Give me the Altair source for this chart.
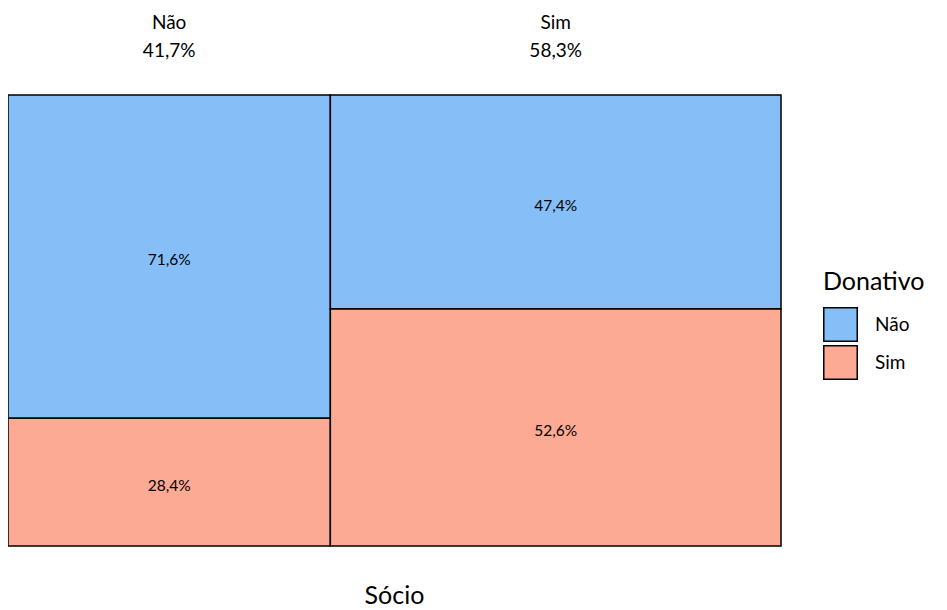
import altair as alt
import pandas as pd

socio = ["Não", "Sim"]
socio_pct = [41.7, 58.3]
donativo = ["Não", "Sim"]
# conditional percentages of Donativo within each Sócio column
pct_nao = [71.6, 47.4]
pct_sim = [28.4, 52.6]
colors = ["#86BFF7", "#FDAA95"]

FONT = "Lato"

rows = []
cols = []
x0 = 0.0
for i, s in enumerate(socio):
    x1 = x0 + socio_pct[i]
    cols.append({"socio": s, "mid": (x0 + x1) / 2,
                 "label": f"{s}\n{socio_pct[i]:.1f}%".replace(".", ",")})
    # Sim at bottom, Não on top
    rows.append({"socio": s, "donativo": "Sim", "x": x0, "x2": x1,
                 "y": 0, "y2": pct_sim[i], "ym": pct_sim[i] / 2,
                 "txt": f"{pct_sim[i]:.1f}%".replace(".", ",")})
    rows.append({"socio": s, "donativo": "Não", "x": x0, "x2": x1,
                 "y": pct_sim[i], "y2": 100, "ym": pct_sim[i] + pct_nao[i] / 2,
                 "txt": f"{pct_nao[i]:.1f}%".replace(".", ",")})
    x0 = x1

df = pd.DataFrame(rows)
dc = pd.DataFrame(cols)

xs = alt.Scale(domain=[0, 100], nice=False, zero=False)
ys = alt.Scale(domain=[0, 100], nice=False, zero=False)

rects = alt.Chart(df).mark_rect(stroke="black", strokeWidth=1.5).encode(
    x=alt.X("x:Q", scale=xs, axis=None),
    x2="x2",
    y=alt.Y("y:Q", scale=ys, axis=None),
    y2="y2",
    color=alt.Color("donativo:N", scale=alt.Scale(domain=donativo, range=colors),
                    legend=alt.Legend(title="Donativo", orient="none", legendX=815, legendY=175,
                                      symbolType="square", symbolSize=1120,
                                      symbolStrokeColor="black", symbolStrokeWidth=1.5,
                                      symbolOpacity=1, labelFontSize=19, titleFontSize=25,
                                      titleFontWeight="normal", labelFont=FONT, titleFont=FONT,
                                      labelColor="black", titleColor="black",
                                      rowPadding=-6, titlePadding=12, labelOffset=17)),
)

cell_text = alt.Chart(df).mark_text(font=FONT, fontSize=15.5, color="black", baseline="middle", dy=4).encode(
    x=alt.X("xm:Q", scale=xs, axis=None),
    y=alt.Y("ym:Q", scale=ys, axis=None),
    text="txt:N",
).transform_calculate(xm="(datum.x + datum.x2) / 2")

top_text = alt.Chart(dc).mark_text(font=FONT, fontSize=19, color="black", baseline="middle",
                                   lineBreak="\n", lineHeight=28).encode(
    x=alt.X("mid:Q", scale=xs, axis=None),
    y=alt.value(-72),
    text="label:N",
)

title_text = alt.Chart(pd.DataFrame({"t": ["Sócio"]})).mark_text(
    font=FONT, fontSize=25, color="black", baseline="middle").encode(
    x=alt.value(386.5),
    y=alt.value(501),
    text="t:N",
)

chart = alt.layer(rects, cell_text, top_text, title_text).properties(
    width=773, height=451,
    autosize=alt.AutoSizeParams(type="none"),
    padding={"left": 0, "top": 87, "right": 158, "bottom": 62},
).configure_view(stroke=None)

chart.save("out.html", embed_options={"renderer": "svg", "actions": False})
